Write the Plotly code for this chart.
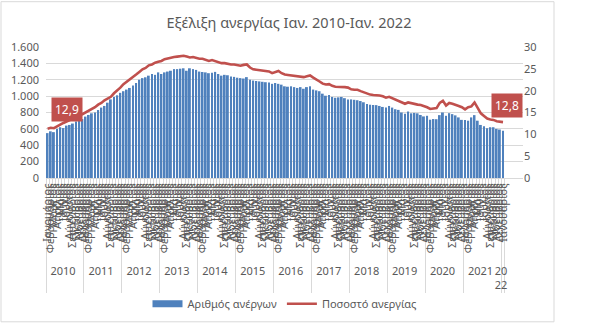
import plotly.graph_objects as go

months = ["Ιανουάριος", "Φεβρουάριος", "Μάρτιος", "Απρίλιος", "Μάιος", "Ιούνιος",
          "Ιούλιος", "Αύγουστος", "Σεπτέμβριος", "Οκτώβριος", "Νοέμβριος", "Δεκέμβριος"]
years = ["2010", "2011", "2012", "2013", "2014", "2015", "2016", "2017",
         "2018", "2019", "2020", "2021", "20<br>22"]

# Number of unemployed (thousands), one list per year
u2010 = [548, 570, 560, 600, 620, 610, 640, 648, 665, 690, 700, 720]
u2011 = [750, 770, 790, 800, 830, 860, 880, 920, 960, 990, 1010, 1040]
u2012 = [1060, 1080, 1100, 1130, 1160, 1200, 1220, 1230, 1250, 1270, 1260, 1290]
u2013 = [1270, 1290, 1300, 1310, 1330, 1330, 1335, 1340, 1310, 1340, 1330, 1320]
u2014 = [1300, 1295, 1290, 1280, 1285, 1296, 1270, 1250, 1260, 1255, 1240, 1235]
u2015 = [1225, 1220, 1215, 1232, 1200, 1190, 1185, 1180, 1175, 1170, 1165, 1150]
u2016 = [1160, 1150, 1140, 1120, 1115, 1120, 1110, 1100, 1110, 1090, 1110, 1120]
u2017 = [1080, 1070, 1060, 1030, 1005, 1015, 990, 980, 985, 990, 975, 960]
u2018 = [960, 955, 950, 940, 925, 905, 895, 892, 890, 880, 868, 860]
u2019 = [880, 860, 840, 832, 800, 785, 812, 790, 795, 790, 770, 752]
u2020 = [760, 712, 720, 718, 768, 800, 760, 792, 780, 765, 740, 710]
u2021 = [708, 700, 740, 768, 700, 648, 632, 608, 620, 620, 600, 592]
u2022 = [576]

# Unemployment rate (%), one list per year
r2010 = [11.3, 11.5, 11.4, 11.9, 12.2, 12.6, 12.9, 13.3, 13.6, 14.0, 14.4, 14.6]
r2011 = [15.0, 15.3, 15.8, 16.2, 16.8, 17.2, 17.8, 18.3, 18.6, 19.4, 20.0, 20.7]
r2012 = [21.5, 22.0, 22.5, 23.2, 23.7, 24.3, 24.9, 25.2, 25.8, 26.0, 26.4, 26.6]
r2013 = [26.8, 27.2, 27.4, 27.6, 27.7, 27.8, 27.9, 28.0, 27.8, 27.6, 27.7, 27.5]
r2014 = [27.3, 27.3, 27.0, 26.8, 27.0, 26.8, 26.5, 26.3, 26.3, 26.1, 26.0, 26.0]
r2015 = [25.8, 25.7, 25.9, 26.0, 25.3, 24.9, 24.8, 24.7, 24.7, 24.5, 24.4, 24.0]
r2016 = [24.3, 24.5, 24.0, 23.7, 23.6, 23.5, 23.5, 23.4, 23.2, 23.1, 23.3, 23.5]
r2017 = [23.0, 22.6, 22.1, 21.6, 21.4, 21.5, 21.1, 20.9, 20.9, 20.9, 20.8, 20.7]
r2018 = [20.3, 20.2, 20.2, 19.9, 19.6, 19.4, 19.1, 19.0, 19.0, 18.9, 18.7, 18.4]
r2019 = [18.6, 18.3, 18.0, 17.7, 17.3, 17.0, 17.3, 17.1, 17.0, 16.8, 16.7, 16.5]
r2020 = [16.2, 15.8, 15.9, 16.0, 17.2, 17.7, 16.6, 17.2, 17.0, 16.8, 16.5, 16.2]
r2021 = [15.7, 16.2, 16.4, 17.3, 16.2, 14.8, 14.2, 13.6, 13.4, 13.3, 13.0, 12.9]
r2022 = [12.8]

unemp_by_year = [u2010, u2011, u2012, u2013, u2014, u2015, u2016, u2017,
                 u2018, u2019, u2020, u2021, u2022]
rate_by_year = [r2010, r2011, r2012, r2013, r2014, r2015, r2016, r2017,
                r2018, r2019, r2020, r2021, r2022]

x_year, x_month, unemployed, rate = [], [], [], []
for y, uv, rv in zip(years, unemp_by_year, rate_by_year):
    for i, (a, b) in enumerate(zip(uv, rv)):
        x_year.append(y)
        x_month.append(months[i])
        unemployed.append(a)
        rate.append(b)

labelled = {6: "12,9", len(rate) - 1: "12,8"}

BLUE = "#4f81bd"
RED = "#c0504d"
GREY = "#595959"
FONT = "Noto Sans"

fig = go.Figure()
fig.add_trace(go.Bar(x=[x_year, x_month], y=unemployed, name="Αριθμός ανέργων",
                     marker=dict(color=BLUE, line=dict(width=0)), yaxis="y",
                     showlegend=False))
fig.add_trace(go.Scatter(x=[x_year, x_month], y=rate, name="Ποσοστό ανεργίας",
                         mode="lines", line=dict(color=RED, width=2.6), yaxis="y2",
                         showlegend=False))
# legend entries (Excel-style wide swatches)
fig.add_trace(go.Scatter(x=[None], y=[None], mode="lines", name="Αριθμός ανέργων",
                         line=dict(color=BLUE, width=7), yaxis="y"))
fig.add_trace(go.Scatter(x=[None], y=[None], mode="lines", name="Ποσοστό ανεργίας",
                         line=dict(color=RED, width=2.6), yaxis="y2"))

for idx, txt in labelled.items():
    fig.add_annotation(x=idx, y=rate[idx], xref="x", yref="y2", text=txt,
                       showarrow=False, bgcolor=RED, font=dict(color="white", size=12, family=FONT),
                       borderpad=3, yshift=12 if idx == 6 else 17, xshift=0 if idx == 6 else 4)

fig.update_layout(
    width=602, height=330,
    margin=dict(l=46, r=79, t=47, b=150),
    paper_bgcolor="white", plot_bgcolor="white",
    separators=",.",
    bargap=0.4,
    title=dict(text="Εξέλιξη ανεργίας Ιαν. 2010-Ιαν. 2022", x=0.48, xanchor="center",
               y=0.93, yanchor="middle", font=dict(size=14.5, color=GREY, family=FONT)),
    font=dict(family=FONT, color=GREY, size=11),
    showlegend=True,
    legend=dict(orientation="h", x=0.5, xanchor="center", y=-0.96, yanchor="middle",
                font=dict(size=11, color=GREY, family=FONT),
                bgcolor="rgba(0,0,0,0)"),
    xaxis=dict(type="multicategory", tickangle=-90, tickmode="linear", dtick=1,
               tickfont=dict(size=11, color=GREY),
               showgrid=False, showline=True, linecolor="#d9d9d9", ticks="outside",
               tickcolor="#d9d9d9", dividercolor="#d9d9d9", dividerwidth=1),
    yaxis=dict(range=[0, 1600], dtick=200, tickformat=",d", showgrid=True,
               gridcolor="#d9d9d9", zeroline=False, tickfont=dict(size=11, color=GREY),
               ticklabelstandoff=6),
    yaxis2=dict(range=[0, 30], dtick=5, overlaying="y", side="right", showgrid=False,
                zeroline=False, tickfont=dict(size=11, color=GREY)),
)

fig.add_shape(type="rect", xref="paper", yref="paper",
              x0=(1 - 46) / 477, x1=(554 - 46) / 477, y0=(180 - 326) / 133, y1=(180 - 1) / 133,
              line=dict(color="#d9d9d9", width=1), fillcolor="rgba(0,0,0,0)", layer="below")

fig.write_html("out.html")
